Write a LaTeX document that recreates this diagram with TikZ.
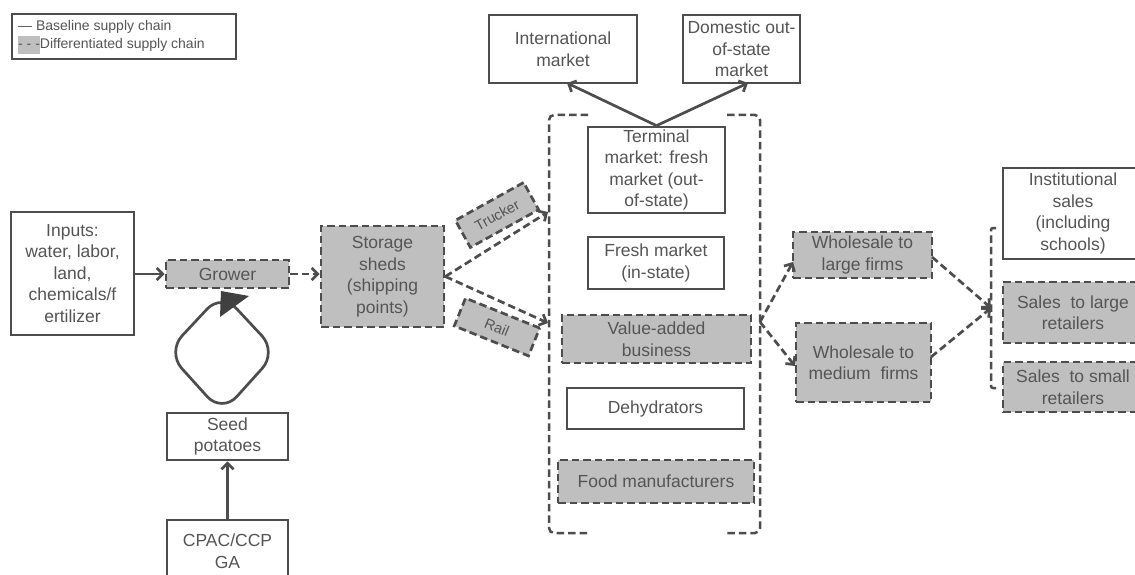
\documentclass[tikz,border=0pt]{standalone}
\usepackage{fontspec}
\setmainfont{Liberation Sans}
\usetikzlibrary{arrows.meta}
\definecolor{lc}{HTML}{4D4D4D}
\definecolor{tc}{HTML}{555555}
\definecolor{fg}{HTML}{BFBFBF}
\definecolor{tri}{HTML}{404040}
\newcommand\mainfs{\fontsize{17.5}{21.5}\selectfont}
\newcommand\legfs{\fontsize{14}{18}\selectfont}
\newcommand\tagfs{\fontsize{14.5}{16}\selectfont}
\tikzset{
  box/.style={draw=lc, line width=2.7pt, fill=white, align=center, inner sep=0pt, text=tc, font=\mainfs},
  dbox/.style={box, fill=fg, dash pattern=on 7.5pt off 4pt},
  tagbox/.style={dbox, font=\tagfs},
  conn/.style={draw=lc, line width=2.7pt, -{Straight Barb[length=6pt,width=12pt]}},
  dconn/.style={conn, dash pattern=on 7.5pt off 4pt},
  brk/.style={draw=lc, line width=2.5pt, dash pattern=on 7.5pt off 4pt, rounded corners=5pt},
}
\begin{document}
\begin{tikzpicture}[x=1pt,y=-1pt]
\useasboundingbox (0,0) rectangle (1135,575);
\fill[white] (0,0) rectangle (1135,575);
\clip (0,0) rectangle (1135,575);

% legend
\node[draw=lc, line width=2.2pt, fill=white, minimum width=224pt, minimum height=45pt, inner sep=0pt] (legbox) at (124,36.5) {};
\node[anchor=north west, align=left, inner sep=0pt, text=tc, font=\legfs] (legtext) at (18,20)
  {--- Baseline supply chain\\{\setlength\fboxsep{0pt}\colorbox{fg}{\strut - - -}}Differentiated supply chain};

% left part
\node[box, minimum width=123pt, minimum height=123pt] (inputs) at (72.5,273.5)
  {Inputs:\\water, labor,\\land,\\chemicals/f\\ertilizer};
\node[dbox, minimum width=123pt, minimum height=28pt] (grower) at (227.5,274) {Grower};
\node[dbox, minimum width=123pt, minimum height=101pt] (storage) at (382.5,276.5)
  {Storage\\sheds\\(shipping\\points)};
\node[box, minimum width=121pt, minimum height=47pt] (seed) at (227.5,436.5) {Seed\\potatoes};
\node[box, minimum width=121pt, minimum height=62pt] (cpac) at (227.5,551) {CPAC/CCP\\GA};

% loop
\draw[draw=lc, line width=2.7pt, rounded corners=22pt] (222,293) -- (277,352) -- (222,413) -- (167,352) -- cycle;
\fill[tri] (220,317) -- (221,291) -- (249,296) -- cycle;

% top markets
\node[box, minimum width=148pt, minimum height=68pt] (intl) at (563,49) {International\\market};
\node[box, minimum width=117pt, minimum height=68pt] (dom) at (741.5,49) {Domestic out-\\of-state\\market};

% middle column
\node[box, minimum width=137pt, minimum height=86pt] (terminal) at (656.5,170)
  {Terminal\\market: fresh\\market (out-\\of-state)};
\node[box, minimum width=136pt, minimum height=52pt] (fresh) at (656,263) {Fresh market\\(in-state)};
\node[dbox, minimum width=189pt, minimum height=48pt] (value) at (656.5,339) {Value-added\\business};
\node[box, minimum width=177pt, minimum height=41pt] (dehyd) at (655.5,408.5) {Dehydrators};
\node[dbox, minimum width=196pt, minimum height=43pt] (food) at (656,481.5) {Food manufacturers};

% bracket round middle column
\draw[brk] (588,115) -- (549,115) -- (549,533) -- (587,533);
\draw[brk] (727,115) -- (760,115) -- (760,533) -- (725,533);
\coordinate (colL1) at (548,212);
\coordinate (colL2) at (548,323);
\coordinate (colR) at (760,322);

% transport tags
\node[tagbox, minimum width=78pt, minimum height=31pt, rotate=29] (trucker) at (497,215) {Trucker};
\node[tagbox, minimum width=80pt, minimum height=30pt, rotate=-22] (rail) at (497,327) {Rail};

% wholesale
\node[dbox, minimum width=139pt, minimum height=46pt] (wlarge) at (862.5,255) {Wholesale to\\large firms};
\node[dbox, minimum width=135pt, minimum height=79pt] (wmed) at (863.5,362.5) {Wholesale to\\medium\ \ firms};

% retail
\node[box, minimum width=140pt, minimum height=91pt] (inst) at (1073,213.5)
  {Institutional\\sales\\(including\\schools)};
\node[dbox, minimum width=140pt, minimum height=61pt] (slarge) at (1073,312.5) {Sales\ \ to large\\retailers};
\node[dbox, minimum width=140pt, minimum height=50pt] (ssmall) at (1073,387) {Sales\ \ to small\\retailers};
\draw[brk, rounded corners=2pt] (996,228) -- (991,228) -- (991,388) -- (996,388);
\coordinate (retL) at (991,308);

% connectors
\draw[conn] (inputs.east |- grower.west) -- (grower.west);
\draw[dconn] (grower.east) -- (storage.west |- grower.east);
\draw[conn] (cpac.north) -- (seed.south);
\draw[dconn] (storage.east) -- (colL1);
\draw[dconn] (storage.east) -- (colL2);
\draw[conn] (terminal.north) -- (567,83);
\draw[conn] (terminal.north) -- (748,83);
\draw[dconn] (colR) -- (793,262);
\draw[dconn] (colR) -- (795,366);
\draw[dconn] (932,257) -- (retL);
\draw[dconn] (931,357) -- (retL);
\end{tikzpicture}
\end{document}
